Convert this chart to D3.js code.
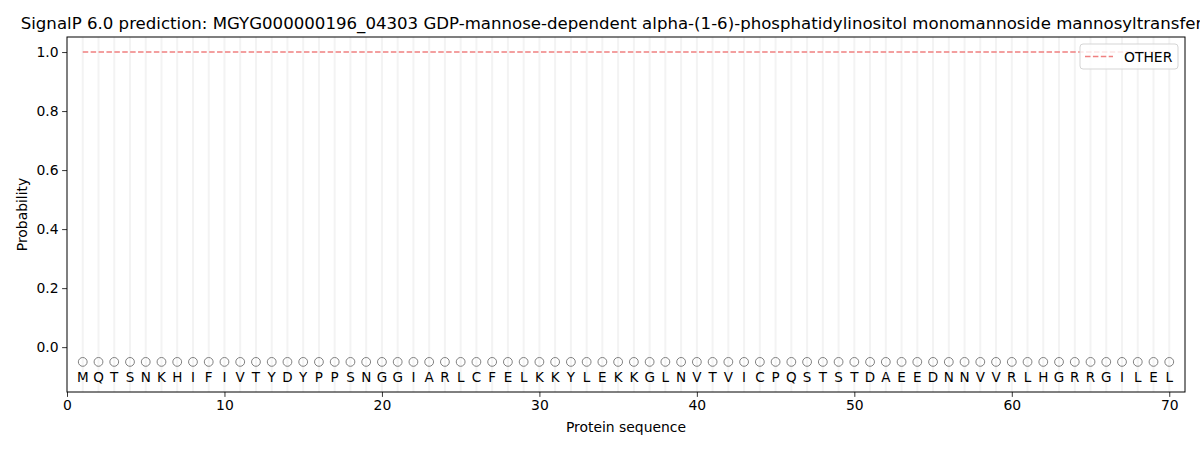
<!DOCTYPE html>
<html>
<head>
<meta charset="utf-8">
<script src="https://cdn.jsdelivr.net/npm/d3@7"></script>
<style>
  body { margin: 0; background: #fff; }
  svg { font-family: "DejaVu Sans", sans-serif; }
</style>
</head>
<body>
<div id="chart"></div>
<script>
const TITLE = 'SignalP 6.0 prediction: MGYG000000196_04303 GDP-mannose-dependent alpha-(1-6)-phosphatidylinositol monomannoside mannosyltransferase';
const sequence = 'MQTSNKHIFIVTYDYPPSNGGIARLCFELKKYLEKKGLNVTVICPQSTSTDAEEDNNVVRLHGRRGILEL'.split('');
const positions = sequence.map((_, i) => i + 1);
// per-residue label is O everywhere; OTHER probability stays at 1.0
const predLabels = sequence.map(() => 'O');
const otherProb = sequence.map(() => 1.0);
const yTicks = [0.0, 0.2, 0.4, 0.6, 0.8, 1.0];
const xTicks = [0, 10, 20, 30, 40, 50, 60, 70];

const W = 1200, H = 450;
const margin = { top: 37, right: 15, bottom: 58, left: 67 };
const width = W - margin.left - margin.right;
const height = H - margin.top - margin.bottom;

const svg = d3.select('#chart').append('svg')
    .attr('width', W).attr('height', H);

const x = d3.scaleLinear().domain([0, 71]).range([0, width]);
const y = d3.scaleLinear().domain([-0.152, 1.051]).range([height, 0]);

const g = svg.append('g').attr('transform', `translate(${margin.left},${margin.top})`);

// light vertical guides at each residue
g.selectAll('line.guide').data(positions).join('line')
    .attr('class', 'guide')
    .attr('x1', d => x(d)).attr('x2', d => x(d))
    .attr('y1', 0).attr('y2', height)
    .attr('stroke', '#f3f3f3').attr('stroke-width', 2);

// OTHER probability line
const line = d3.line().x((d, i) => x(positions[i])).y(d => y(d));
g.append('path')
    .datum(otherProb)
    .attr('d', line)
    .attr('fill', 'none')
    .attr('stroke', '#f08080')
    .attr('stroke-width', 1.5)
    .attr('stroke-dasharray', '5.5,2.4');

// predicted label markers
g.selectAll('circle.pred').data(predLabels).join('circle')
    .attr('class', 'pred')
    .attr('cx', (d, i) => x(positions[i]))
    .attr('cy', y(-0.05))
    .attr('r', 4.4)
    .attr('fill', 'none')
    .attr('stroke', '#808080')
    .attr('stroke-width', 1);

// residue letters
g.selectAll('text.aa').data(sequence).join('text')
    .attr('class', 'aa')
    .attr('x', (d, i) => x(positions[i]))
    .attr('y', y(-0.1))
    .attr('dy', '0.36em')
    .attr('text-anchor', 'middle')
    .attr('font-size', 13.5)
    .attr('fill', '#000')
    .text(d => d);

// axes
const xAxis = g.append('g')
    .attr('transform', `translate(0,${height})`)
    .call(d3.axisBottom(x).tickValues(xTicks).tickFormat(d3.format('d')).tickSize(4.9).tickPadding(3.5));
const yAxis = g.append('g')
    .call(d3.axisLeft(y).tickValues(yTicks).tickFormat(d3.format('.1f')).tickSize(4.9).tickPadding(3.5));
[xAxis, yAxis].forEach(a => {
    a.select('.domain').remove();
    a.selectAll('text').attr('font-size', 13.9).attr('font-family', '"DejaVu Sans", sans-serif').attr('fill', '#000');
    a.selectAll('line').attr('stroke', '#000').attr('stroke-width', 0.8);
});

g.append('rect')
    .attr('width', width).attr('height', height)
    .attr('fill', 'none').attr('stroke', '#000').attr('stroke-width', 1);

// labels
svg.append('text')
    .attr('x', margin.left + width / 2).attr('y', 432)
    .attr('text-anchor', 'middle').attr('font-size', 13.9)
    .text('Protein sequence');
svg.append('text')
    .attr('transform', `translate(27,${margin.top + height / 2}) rotate(-90)`)
    .attr('text-anchor', 'middle').attr('font-size', 13.9)
    .text('Probability');
svg.append('text')
    .attr('x', margin.left + width / 2).attr('y', 29)
    .attr('text-anchor', 'middle').attr('font-size', 16.6)
    .text(TITLE);

// legend
const lg = svg.append('g').attr('transform', `translate(${margin.left + width - 105},${margin.top + 7})`);
lg.append('rect')
    .attr('width', 98).attr('height', 25).attr('rx', 3)
    .attr('fill', '#fff').attr('fill-opacity', 0.8)
    .attr('stroke', '#d5d5d5').attr('stroke-width', 1);
lg.append('line')
    .attr('x1', 5).attr('x2', 33).attr('y1', 12.5).attr('y2', 12.5)
    .attr('stroke', '#f08080').attr('stroke-width', 1.5)
    .attr('stroke-dasharray', '5.5,2.4');
lg.append('text')
    .attr('x', 44).attr('y', 12.5).attr('dy', '0.36em')
    .attr('font-size', 13.9).text('OTHER');
</script>
</body>
</html>
